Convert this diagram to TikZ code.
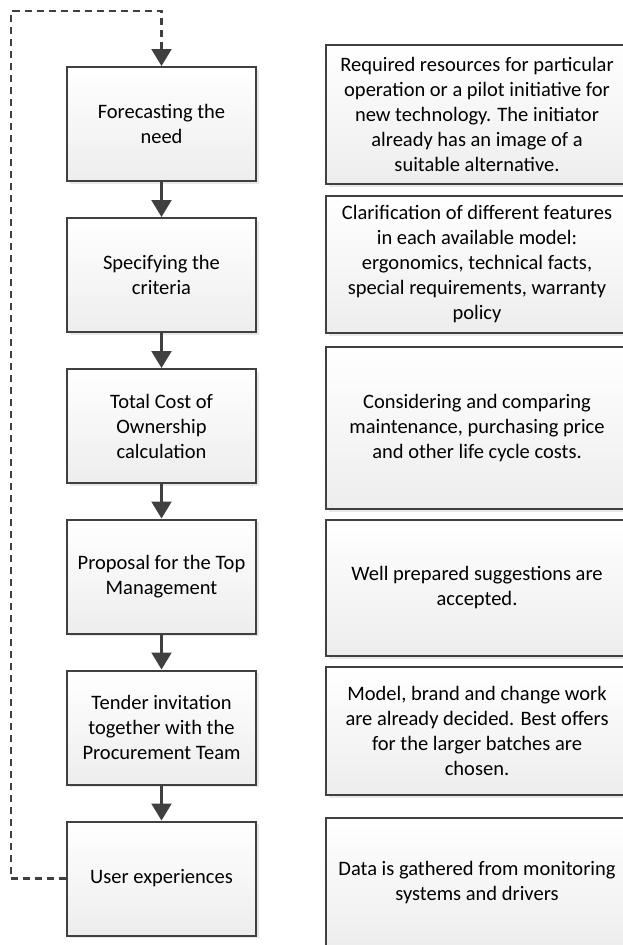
\documentclass[tikz,border=0pt]{standalone}
\usepackage{fontspec}
\setmainfont{Carlito}
\usetikzlibrary{arrows,shadows}
\usepgflibrary{arrows.meta}
\definecolor{linegray}{HTML}{404040}

\begin{document}
\begin{tikzpicture}[x=1pt,y=-1pt,
    boxbase/.style={draw=linegray,line width=2pt,top color=white,bottom color=black!7,
        drop shadow={shadow xshift=2.5pt,shadow yshift=-2.5pt,opacity=0.18},
        align=center,inner sep=0pt,font=\fontsize{20.5}{25}\selectfont},
    stepbox/.style={boxbase,minimum width=189pt,minimum height=114pt},
    notebox/.style={boxbase,minimum width=302pt},
    flowarrow/.style={draw=linegray,line width=2.2pt,-{Triangle[length=17pt,width=20pt]}},
    backloop/.style={draw=linegray,line width=2.2pt,dash pattern=on 7pt off 5pt,-{Triangle[length=17pt,width=20pt]}}]
        \useasboundingbox (0,0) rectangle (623,945);
        %左侧步骤
        \node[stepbox] (forecast) at (161.5,124) {Forecasting the\\need};
        \node[stepbox] (criteria) at (161.5,275) {Specifying the\\criteria};
        \node[stepbox] (tco) at (161.5,426) {Total Cost of\\Ownership\\calculation};
        \node[stepbox] (proposal) at (161.5,576.5) {Proposal for the Top\\Management};
        \node[stepbox] (tender) at (161.5,727.5) {Tender invitation\\together with the\\Procurement Team};
        \node[stepbox] (experience) at (161.5,878.5) {User experiences};
        %右侧说明 (右边超出画面)
        \node[notebox,minimum height=139pt] (forecastnote) at (477,114.5) {Required resources for particular\\operation or a pilot initiative for\\new technology. The initiator\\already has an image of a\\suitable alternative.};
        \node[notebox,minimum height=137pt] (criterianote) at (477,264.5) {Clarification of different features\\in each available model:\\ergonomics, technical facts,\\special requirements, warranty\\policy};
        \node[notebox,minimum height=162pt] (tconote) at (477,428) {Considering and comparing\\maintenance, purchasing price\\and other life cycle costs.};
        \node[notebox,minimum height=136pt] (proposalnote) at (477,588) {Well prepared suggestions are\\accepted.};
        \node[notebox,minimum height=128pt] (tendernote) at (477,731) {Model, brand and change work\\are already decided. Best offers\\for the larger batches are\\chosen.};
        \node[notebox,minimum height=130pt] (experiencenote) at (477,883) {Data is gathered from monitoring\\systems and drivers};
        %箭头
        \foreach \a/\b in {forecast/criteria,criteria/tco,tco/proposal,proposal/tender,tender/experience}
            \draw[flowarrow] (\a) -- (\b);
        %虚线反馈
        \coordinate (loopcorner) at (11,11);
        \draw[backloop] (experience.west) -| (loopcorner) -| (forecast.north);
\end{tikzpicture}
\end{document}
